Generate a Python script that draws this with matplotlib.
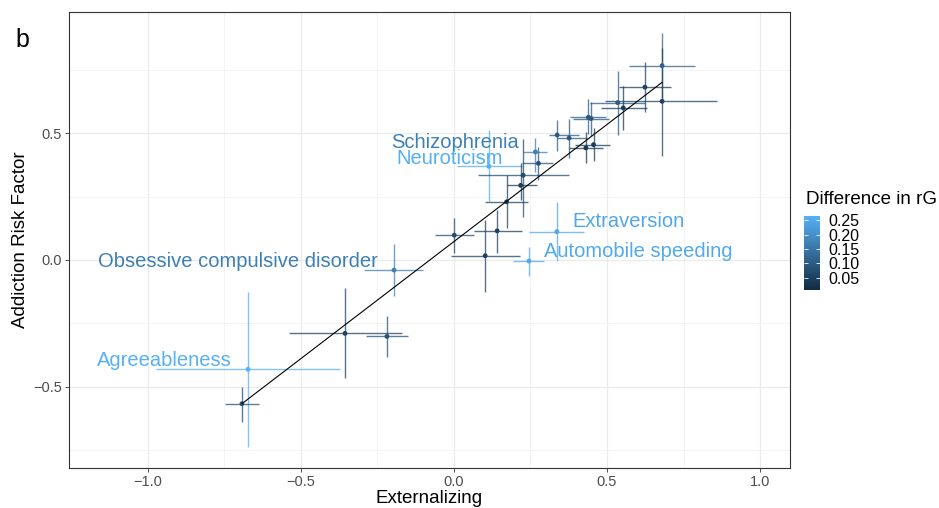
import matplotlib
matplotlib.use("Agg")
import matplotlib.pyplot as plt
import numpy as np
from matplotlib.colors import LinearSegmentedColormap, Normalize
from matplotlib.colorbar import ColorbarBase

plt.rcParams["font.family"] = ["Liberation Sans", "DejaVu Sans"]

# genetic correlation of each trait with Externalizing (x) and the Addiction Risk Factor (y)
ext = [0.680, 0.680, 0.624, 0.535, 0.553, 0.439, 0.448, 0.376, 0.431, 0.456,
       0.337, 0.266, 0.276, 0.114, 0.226, 0.218, 0.172, 0.141, 0.001, 0.102,
       0.336, 0.245, -0.196, -0.356, -0.219, -0.673, -0.693]
ext_lo = [0.572, 0.495, 0.539, 0.444, 0.479, 0.379, 0.388, 0.335, 0.377, 0.395,
          0.312, 0.224, 0.221, 0.009, 0.079, 0.172, 0.101, 0.065, -0.062, -0.010,
          0.246, 0.194, -0.293, -0.538, -0.289, -0.975, -0.749]
ext_hi = [0.788, 0.860, 0.708, 0.624, 0.630, 0.496, 0.505, 0.434, 0.486, 0.510,
          0.408, 0.305, 0.325, 0.223, 0.376, 0.270, 0.243, 0.221, 0.065, 0.216,
          0.425, 0.295, -0.100, -0.171, -0.149, -0.373, -0.636]
arf = [0.768, 0.627, 0.683, 0.622, 0.601, 0.564, 0.559, 0.482, 0.443, 0.456,
       0.494, 0.427, 0.382, 0.370, 0.335, 0.295, 0.230, 0.115, 0.098, 0.017,
       0.112, -0.004, -0.040, -0.290, -0.302, -0.432, -0.568]
arf_lo = [0.639, 0.412, 0.584, 0.495, 0.515, 0.498, 0.490, 0.403, 0.383, 0.390,
          0.432, 0.349, 0.316, 0.234, 0.171, 0.237, 0.125, 0.029, 0.029, -0.128,
          -0.003, -0.063, -0.141, -0.468, -0.382, -0.738, -0.639]
arf_hi = [0.897, 0.838, 0.781, 0.748, 0.686, 0.636, 0.625, 0.558, 0.506, 0.522,
          0.553, 0.481, 0.448, 0.514, 0.477, 0.382, 0.336, 0.198, 0.167, 0.158,
          0.230, 0.053, 0.063, -0.112, -0.221, -0.128, -0.501]
diff_rg = [0.11, 0.05, 0.05, 0.10, 0.04, 0.10, 0.09, 0.09, 0.03, 0.04,
           0.10, 0.17, 0.08, 0.26, 0.07, 0.04, 0.05, 0.05, 0.07, 0.05,
           0.245, 0.25, 0.17, 0.05, 0.08, 0.265, 0.08]
labels = ["", "", "", "", "", "", "", "", "", "",
          "", "Schizophrenia", "", "Neuroticism", "", "", "", "", "", "",
          "Extraversion", "Automobile speeding", "Obsessive compulsive disorder", "", "", "Agreeableness", ""]

# least-squares line of ARF on Externalizing
fit_slope = 0.925
fit_intercept = 0.073

# label placement (offset in points, horizontal alignment)
label_pos = {
    "Schizophrenia": (-12, 6.5, "right"),
    "Neuroticism": (-28, 6, "center"),
    "Extraversion": (11, 7, "left"),
    "Automobile speeding": (11, 6.5, "left"),
    "Obsessive compulsive disorder": (-11.5, 6, "right"),
    "Agreeableness": (-11.5, 6.5, "right"),
}

cmap = LinearSegmentedColormap.from_list("rg", ["#132B43", "#56B1F7"])
norm = Normalize(vmin=0.007, vmax=0.265)

fig = plt.figure(figsize=(9.39, 5.08), dpi=100)
ax = fig.add_axes([69 / 939, 1 - 468 / 508, 721 / 939, 456 / 508])

x = np.array(ext)
y = np.array(arf)
cols = cmap(norm(np.array(diff_rg)))

for i in range(len(x)):
    ax.plot([ext_lo[i], ext_hi[i]], [y[i], y[i]], color=cols[i], lw=1.0, alpha=0.75,
            solid_capstyle="butt", zorder=2)
    ax.plot([x[i], x[i]], [arf_lo[i], arf_hi[i]], color=cols[i], lw=1.0, alpha=0.75,
            solid_capstyle="butt", zorder=2)
ax.scatter(x, y, c=cols, s=12, zorder=3, edgecolors="none")

xs = np.array([x.min(), x.max()])
ax.plot(xs, fit_intercept + fit_slope * xs, color="black", lw=0.8, zorder=4)

for i, lab in enumerate(labels):
    if not lab:
        continue
    dx, dy, ha = label_pos[lab]
    ax.annotate(lab, (x[i], y[i]), xytext=(dx, dy), textcoords="offset points",
                ha=ha, va="center", fontsize=14.5, color=cols[i], zorder=5)

ax.set_xlim(-1.258, 1.098)
ax.set_ylim(-0.822, 0.980)
ax.set_xticks([-1.0, -0.5, 0.0, 0.5, 1.0])
ax.set_xticks([-0.75, -0.25, 0.25, 0.75], minor=True)
ax.set_yticks([-0.5, 0.0, 0.5])
ax.set_yticks([-0.75, -0.25, 0.25, 0.75], minor=True)
ax.set_xticklabels(["\u22121.0", "\u22120.5", "0.0", "0.5", "1.0"])
ax.set_yticklabels(["\u22120.5", "0.0", "0.5"])
ax.grid(which="major", color="#ebebeb", lw=0.9)
ax.grid(which="minor", color="#f2f2f2", lw=0.6)
ax.set_axisbelow(True)
ax.tick_params(which="major", length=3, width=0.6, color="#333333",
               labelsize=10.5, labelcolor="#4d4d4d", pad=2)
ax.tick_params(which="minor", length=0)
for sp in ax.spines.values():
    sp.set_color("#333333")
    sp.set_linewidth(0.8)
ax.set_xlabel("Externalizing", fontsize=13.5, labelpad=1)
ax.set_ylabel("Addiction Risk Factor", fontsize=13.5, labelpad=3)

fig.text(22 / 939, 1 - 40 / 508, "b", fontsize=18, va="center", ha="center")

# colour legend
cax = fig.add_axes([804 / 939, 1 - 290 / 508, 16 / 939, 74 / 508])
cb = ColorbarBase(cax, cmap=cmap, norm=norm, orientation="vertical")
cb.outline.set_visible(False)
cb.set_ticks([0.05, 0.10, 0.15, 0.20, 0.25])
cb.set_ticklabels(["0.05", "0.10", "0.15", "0.20", "0.25"])
cax.tick_params(direction="in", length=3, width=0.6, color="white",
                left=True, right=True, labelleft=False, labelright=True,
                labelsize=11.5, pad=6)
fig.text(806 / 939, 1 - 200 / 508, "Difference in rG", fontsize=13.5, va="center", ha="left")

fig.savefig("out.png", dpi=100)
